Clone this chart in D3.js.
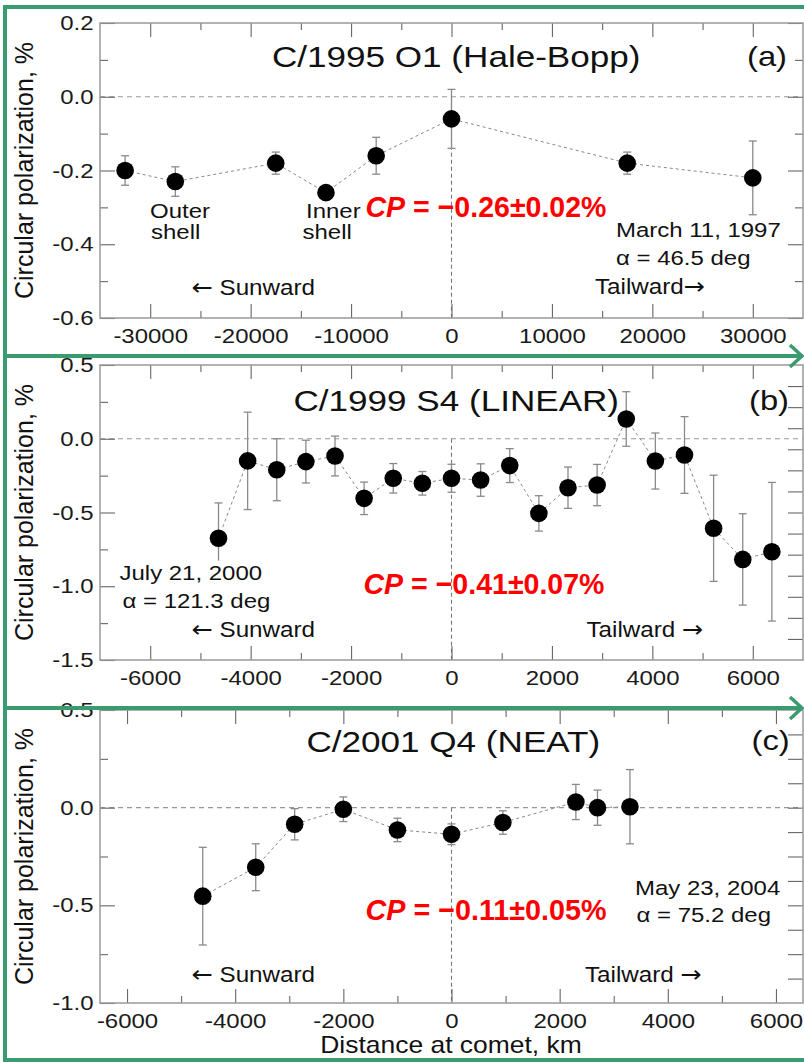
<!DOCTYPE html>
<html>
<head>
<meta charset="utf-8">
<script src="https://cdn.jsdelivr.net/npm/d3@7"></script>
<style>
  body { margin: 0; background: #fff; }
  svg { display: block; font-family: "Liberation Sans", Arial, sans-serif; }
</style>
</head>
<body>
<div id="chart"></div>
<script>
// (a) C/1995 O1 (Hale-Bopp)
var distA = [-32500, -27500, -17500, -12500, -7500, 0, 17500, 30000];
var cpA   = [-0.20, -0.23, -0.18, -0.26, -0.16, -0.06, -0.18, -0.22];
var errA  = [0.04, 0.04, 0.03, 0.01, 0.05, 0.08, 0.03, 0.10];

// (b) C/1999 S4 (LINEAR)
var distB = [-4640, -4060, -3480, -2900, -2320, -1740, -1160, -580, 0, 580,
             1160, 1740, 2320, 2900, 3480, 4060, 4640, 5220, 5800, 6380];
var cpB   = [-0.675, -0.15, -0.21, -0.155, -0.117, -0.404, -0.268, -0.302, -0.268, -0.28,
             -0.182, -0.506, -0.332, -0.314, 0.134, -0.151, -0.11, -0.607, -0.818, -0.766];
var errB  = [0.24, 0.33, 0.21, 0.145, 0.135, 0.11, 0.10, 0.08, 0.095, 0.11,
             0.115, 0.12, 0.14, 0.14, 0.185, 0.19, 0.26, 0.36, 0.31, 0.47];

// (c) C/2001 Q4 (NEAT)
var distC = [-4600, -3620, -2900, -2000, -1000, 0, 950, 2300, 2700, 3300];
var cpC   = [-0.453, -0.305, -0.085, -0.008, -0.114, -0.136, -0.076, 0.029, 0.0, 0.005];
var errC  = [0.25, 0.12, 0.08, 0.063, 0.06, 0.053, 0.06, 0.09, 0.09, 0.19];

// tick labels
var xTicksA = [-30000, -20000, -10000, 0, 10000, 20000, 30000];
var xMinorA = [-25000, -15000, -5000, 5000, 15000, 25000];
var yTicksA = [-0.6, -0.4, -0.2, 0.0, 0.2];
var yMinorA = [-0.5, -0.3, -0.1, 0.1];

var xTicksB = [-6000, -4000, -2000, 0, 2000, 4000, 6000];
var xMinorB = [-5000, -3000, -1000, 1000, 3000, 5000];
var yTicksB = [-1.5, -1.0, -0.5, 0.0, 0.5];
var yMinorB = [-1.25, -0.75, -0.25, 0.25];

var xTicksC = [-6000, -4000, -2000, 0, 2000, 4000, 6000];
var xMinorC = [-5000, -3000, -1000, 1000, 3000, 5000];
var yTicksC = [-1.0, -0.5, 0.0, 0.5];
var yMinorC = [-0.75, -0.25, 0.25];

var W = 804, H = 1062;
var left = 100, right = 803;
var SX = 1.17;          // horizontal stretch of the original lettering
var green = "#3a9a70";

var svg = d3.select("#chart").append("svg")
  .attr("width", W)
  .attr("height", H);
svg.append("rect").attr("width", W).attr("height", H).attr("fill", "#fff");

// text with the arrows set in a font that draws them full size
function label(g, x, y, str, size, opts) {
  opts = opts || {};
  var t = g.append("text")
    .attr("transform", `translate(${x},${y}) scale(${opts.sx || SX},1)`)
    .attr("font-size", size)
    .attr("fill", opts.fill || "#111")
    .attr("text-anchor", opts.anchor || "start");
  str.split(/([\u2190\u2192])/).forEach(function(part) {
    if (!part) return;
    var ts = t.append("tspan").text(part);
    if (part === "\u2190" || part === "\u2192") {
      ts.attr("font-family", "'DejaVu Sans', sans-serif").attr("font-size", size * 1.05);
    }
  });
  return t;
}

function cpLabel(g, x, y, str) {
  var t = g.append("text")
    .attr("x", x).attr("y", y)
    .attr("font-family", "'Liberation Sans Narrow', 'Liberation Sans', Arial, sans-serif")
    .attr("font-size", 30)
    .attr("font-weight", "bold")
    .attr("fill", "#ff0000")
    .attr("textLength", 241)
    .attr("lengthAdjust", "spacingAndGlyphs");
  t.append("tspan").attr("font-style", "italic").text("CP");
  t.append("tspan").text(" = " + str);
}

function drawPanel(p) {
  var g = svg.append("g");
  var x = d3.scaleLinear().domain(p.xDomain).range([left, right]);
  var y = d3.scaleLinear().domain(p.yDomain).range([p.bottom, p.top]);

  // dashed zero lines
  g.append("line")
    .attr("x1", left).attr("x2", right).attr("y1", y(0)).attr("y2", y(0))
    .attr("stroke", "#999").attr("stroke-width", 1.2).attr("stroke-dasharray", "5,4");
  g.append("line")
    .attr("x1", x(0)).attr("x2", x(0)).attr("y1", y(0)).attr("y2", p.bottom)
    .attr("stroke", "#777").attr("stroke-width", 1.1).attr("stroke-dasharray", "4,3");

  function ax(axis, tr) {
    var a = g.append("g").attr("transform", tr).call(axis)
      .attr("font-size", null).attr("font-family", null);
    a.select(".domain").remove();
    a.selectAll(".tick line").attr("stroke", "#666").attr("stroke-width", 1.1);
    return a;
  }

  // left axis
  var yl = ax(d3.axisLeft(y).tickValues(p.yTicks).tickSize(-15).tickPadding(6.5)
    .tickFormat(d => d.toFixed(1)), `translate(${left},0)`);
  yl.selectAll("text")
    .attr("x", -6.5 / SX)
    .attr("transform", `scale(${SX},1)`)
    .attr("font-size", 20.5)
    .attr("fill", "#1a1a1a");
  ax(d3.axisLeft(y).tickValues(p.yMinor).tickSize(-8).tickFormat(""), `translate(${left},0)`);

  // right axis, no labels
  if (p.yRight) {
    ax(d3.axisRight(y).tickValues(p.yRight).tickSize(-15).tickFormat(""), `translate(${right},0)`);
  } else {
    ax(d3.axisRight(y).tickValues(p.yTicks).tickSize(-15).tickFormat(""), `translate(${right},0)`);
    ax(d3.axisRight(y).tickValues(p.yMinor).tickSize(-8).tickFormat(""), `translate(${right},0)`);
  }

  // bottom axis
  var xb = ax(d3.axisBottom(x).tickValues(p.xTicks).tickSize(-14).tickPadding(10)
    .tickFormat(d => String(d)), `translate(0,${p.bottom})`);
  xb.selectAll("text")
    .attr("transform", `scale(${SX},1)`)
    .attr("font-size", 20.5)
    .attr("fill", "#1a1a1a");
  ax(d3.axisBottom(x).tickValues(p.xMinor).tickSize(-7).tickFormat(""), `translate(0,${p.bottom})`);

  // top axis, no labels
  ax(d3.axisTop(x).tickValues(p.xTicks).tickSize(-14).tickFormat(""), `translate(0,${p.top})`);
  ax(d3.axisTop(x).tickValues(p.xMinor).tickSize(-7).tickFormat(""), `translate(0,${p.top})`);

  // frame
  g.append("rect")
    .attr("x", left).attr("y", p.top)
    .attr("width", right - left).attr("height", p.bottom - p.top)
    .attr("fill", "none").attr("stroke", "#999").attr("stroke-width", 1.5);

  var pts = p.dist.map((d, i) => ({ d: d, v: p.cp[i], e: p.err[i] }));

  // connecting line
  g.append("path")
    .datum(pts)
    .attr("fill", "none")
    .attr("stroke", "#888")
    .attr("stroke-width", 1)
    .attr("stroke-dasharray", "3,3")
    .attr("d", d3.line().x(d => x(d.d)).y(d => y(d.v)));

  // error bars
  var eb = g.selectAll(".err").data(pts).enter().append("g").attr("class", "err")
    .attr("stroke", "#8a8a8a").attr("stroke-width", 1.3);
  eb.append("line")
    .attr("x1", d => x(d.d)).attr("x2", d => x(d.d))
    .attr("y1", d => y(d.v - d.e)).attr("y2", d => y(d.v + d.e));
  eb.append("line")
    .attr("x1", d => x(d.d) - 4).attr("x2", d => x(d.d) + 4)
    .attr("y1", d => y(d.v + d.e)).attr("y2", d => y(d.v + d.e));
  eb.append("line")
    .attr("x1", d => x(d.d) - 4).attr("x2", d => x(d.d) + 4)
    .attr("y1", d => y(d.v - d.e)).attr("y2", d => y(d.v - d.e));

  // points
  g.selectAll(".pt").data(pts).enter().append("circle")
    .attr("class", "pt")
    .attr("cx", d => x(d.d))
    .attr("cy", d => y(d.v))
    .attr("r", 8.8)
    .attr("fill", "#000");

  // y axis title
  g.append("text")
    .attr("transform", `translate(33,${(p.top + p.bottom) / 2}) rotate(-90)`)
    .attr("text-anchor", "middle")
    .attr("font-size", 25)
    .attr("fill", "#111")
    .text("Circular polarization, %");

  return g;
}

// panel (a)
var gA = drawPanel({
  top: 23, bottom: 318,
  xDomain: [-35000, 35000], yDomain: [-0.6, 0.2],
  xTicks: xTicksA, xMinor: xMinorA, yTicks: yTicksA, yMinor: yMinorA,
  dist: distA, cp: cpA, err: errA
});
label(gA, 272, 66.5, "C/1995 O1 (Hale-Bopp)", 30);
label(gA, 747, 66, "(a)", 28);
label(gA, 150, 218, "Outer", 20.5);
label(gA, 151, 239, "shell", 20.5);
label(gA, 306, 218, "Inner", 20.5);
label(gA, 302.5, 239, "shell", 20.5);
cpLabel(gA, 365.5, 216.5, "\u22120.26\u00b10.02%");
label(gA, 616, 237, "March 11, 1997", 20.5);
label(gA, 616, 265, "\u03b1 = 46.5 deg", 20.5);
label(gA, 191.5, 295, "\u2190 Sunward", 22, { sx: 1.1 });
label(gA, 595, 294, "Tailward\u2192", 22, { sx: 1.1 });

// panel (b)
var gB = drawPanel({
  top: 365, bottom: 660,
  xDomain: [-7000, 7000], yDomain: [-1.5, 0.5],
  xTicks: xTicksB, xMinor: xMinorB, yTicks: yTicksB, yMinor: yMinorB,
  yRight: d3.range(1, 14).map(k => -1.5 + k * 2 / 14),
  dist: distB, cp: cpB, err: errB
});
label(gB, 293.5, 411, "C/1999 S4 (LINEAR)", 30);
label(gB, 749, 410, "(b)", 28);
var dateB = gB.append("g");
label(dateB, 119.5, 580, "July 21, 2000", 20.5);
label(dateB, 122.5, 608, "\u03b1 = 121.3 deg", 20.5);
var bb = dateB.node().getBBox();
dateB.insert("rect", ":first-child")
  .attr("x", bb.x - 2).attr("y", bb.y - 1)
  .attr("width", bb.width + 4).attr("height", bb.height + 2)
  .attr("fill", "#fff");
cpLabel(gB, 363.5, 593.5, "\u22120.41\u00b10.07%");
label(gB, 191.5, 637, "\u2190 Sunward", 22, { sx: 1.1 });
label(gB, 586.5, 637, "Tailward \u2192", 22, { sx: 1.1 });

// panel (c)
var gC = drawPanel({
  top: 710, bottom: 1003,
  xDomain: [-6500, 6500], yDomain: [-1.0, 0.5],
  xTicks: xTicksC, xMinor: xMinorC, yTicks: yTicksC, yMinor: yMinorC,
  yRight: d3.range(1, 12).map(k => -1.0 + k * 0.125),
  dist: distC, cp: cpC, err: errC
});
label(gC, 306.5, 751.5, "C/2001 Q4 (NEAT)", 30);
label(gC, 751.5, 750, "(c)", 28);
cpLabel(gC, 365.5, 920, "\u22120.11\u00b10.05%");
label(gC, 635, 895, "May 23, 2004", 20.5);
label(gC, 636.5, 921.5, "\u03b1 = 75.2 deg", 20.5);
label(gC, 191.5, 981.5, "\u2190 Sunward", 22, { sx: 1.1 });
label(gC, 585, 981.5, "Tailward \u2192", 22, { sx: 1.1 });
label(gC, 451, 1053, "Distance at comet, km", 23, { anchor: "middle", sx: 1.15 });

// green framing with arrow heads
var fr = svg.append("g")
  .attr("stroke", green).attr("stroke-width", 4).attr("fill", "none")
  .attr("stroke-linecap", "butt");
fr.append("line").attr("x1", 5).attr("x2", 5).attr("y1", 5).attr("y2", 1062);
fr.append("line").attr("x1", 3).attr("x2", 804).attr("y1", 7).attr("y2", 7);
fr.append("line").attr("x1", 3).attr("x2", 804).attr("y1", 1060).attr("y2", 1060);
[356, 708].forEach(function(yy) {
  fr.append("line").attr("x1", 3).attr("x2", 801).attr("y1", yy).attr("y2", yy);
  fr.append("path").attr("stroke-width", 3.5)
    .attr("d", `M790,${yy - 11} L802,${yy} L790,${yy + 11}`);
});
</script>
</body>
</html>
